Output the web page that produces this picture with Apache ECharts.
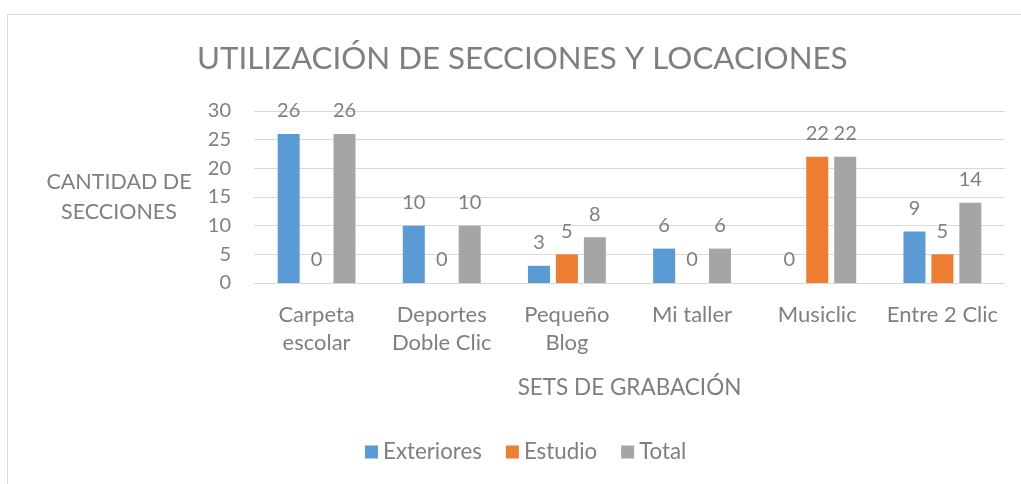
<!DOCTYPE html>
<html>
<head>
<meta charset="utf-8">
<script src="https://cdn.jsdelivr.net/npm/echarts@6/dist/echarts.min.js"></script>
<style>
  html, body { margin: 0; padding: 0; background: #fff; }
  #chart { width: 1021px; height: 484px; }
</style>
</head>
<body>
<div id="chart"></div>
<script>
const categories = ['Carpeta\nescolar', 'Deportes\nDoble Clic', 'Pequeño\nBlog', 'Mi taller', 'Musiclic', 'Entre 2 Clic'];
const exteriores = [26, 10, 3, 6, 0, 9];
const estudio = [0, 0, 5, 0, 22, 5];
const total = [26, 10, 8, 6, 22, 14];
const yTicks = { min: 0, max: 30, step: 5 };

const FONT = "Lato, sans-serif";
const TXT = '#7f7f7f';

const chart = echarts.init(document.getElementById('chart'));

function labelCfg() {
  return {
    show: true,
    position: 'top',
    distance: 13,
    color: TXT,
    fontSize: 20,
    fontFamily: FONT,
  };
}

const option = {
  animation: false,
  textStyle: { fontFamily: FONT },
  title: {
    text: 'UTILIZACIÓN DE SECCIONES Y LOCACIONES',
    left: 192,
    top: 38,
    textStyle: { color: TXT, fontSize: 31.3, fontWeight: 'normal', fontFamily: FONT },
  },
  legend: {
    bottom: 16,
    left: 360,
    itemWidth: 13,
    itemHeight: 13,
    itemGap: 24,
    icon: 'rect',
    textStyle: { color: TXT, fontSize: 22.3, fontFamily: FONT },
    data: ['Exteriores', 'Estudio', 'Total'],
  },
  grid: { left: 254, right: 16, top: 111, bottom: 201 },
  xAxis: {
    type: 'category',
    data: categories,
    name: 'SETS DE GRABACIÓN',
    nameLocation: 'middle',
    nameGap: 93,
    nameTextStyle: { color: TXT, fontSize: 22.5, fontFamily: FONT },
    axisLine: { lineStyle: { color: '#d9d9d9' } },
    axisTick: { show: false },
    axisLabel: { color: TXT, fontSize: 22, lineHeight: 28, margin: 18, interval: 0, fontFamily: FONT },
  },
  yAxis: {
    type: 'value',
    min: yTicks.min,
    max: yTicks.max,
    interval: yTicks.step,
    name: 'CANTIDAD DE\nSECCIONES',
    nameLocation: 'middle',
    nameRotate: 0,
    nameGap: 135,
    nameTextStyle: { color: TXT, fontSize: 21.5, lineHeight: 30, align: 'center', fontFamily: FONT },
    axisLine: { show: false },
    axisTick: { show: false },
    axisLabel: { color: TXT, fontSize: 20, margin: 23, fontFamily: FONT },
    splitLine: { lineStyle: { color: '#d9d9d9' } },
  },
  series: [
    {
      name: 'Exteriores',
      type: 'bar',
      data: exteriores,
      barWidth: 22,
      barGap: '27%',
      itemStyle: { color: '#5b9bd5' },
      label: labelCfg(),
    },
    {
      name: 'Estudio',
      type: 'bar',
      data: estudio,
      barWidth: 22,
      barGap: '27%',
      itemStyle: { color: '#ed7d31' },
      label: labelCfg(),
    },
    {
      name: 'Total',
      type: 'bar',
      data: total,
      barWidth: 22,
      barGap: '27%',
      itemStyle: { color: '#a5a5a5' },
      label: labelCfg(),
    },
  ],
  graphic: [
    {
      type: 'rect',
      left: 5,
      top: 12,
      shape: { width: 1040, height: 500 },
      style: { fill: 'none', stroke: '#d9d9d9', lineWidth: 1 },
      silent: true,
    },
  ],
};

chart.setOption(option);
</script>
</body>
</html>
